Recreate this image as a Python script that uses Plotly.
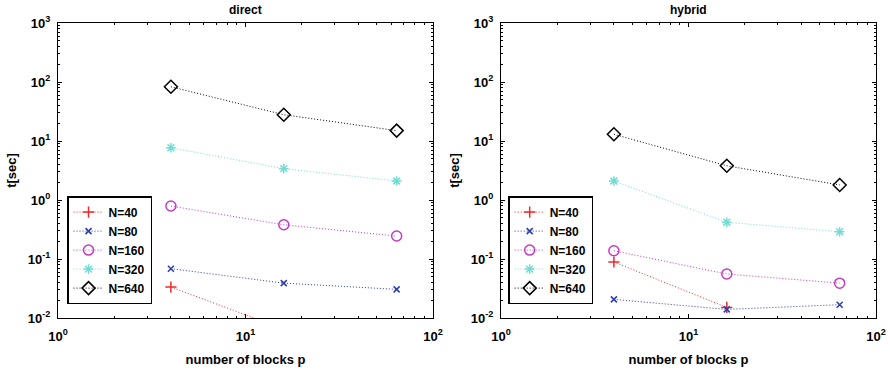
import plotly.graph_objects as go

blocks = [4, 16, 64]
labels = ["N=40", "N=80", "N=160", "N=320", "N=640"]
direct_t = {
    "N=40": [0.0335, 0.0065, 0.004],
    "N=80": [0.0686, 0.039, 0.0306],
    "N=160": [0.79, 0.38, 0.245],
    "N=320": [7.7, 3.4, 2.1],
    "N=640": [83, 27.9, 15],
}
hybrid_t = {
    "N=40": [0.089, 0.0151, None],
    "N=80": [0.0207, 0.014, 0.0168],
    "N=160": [0.138, 0.0557, 0.039],
    "N=320": [2.1, 0.42, 0.29],
    "N=640": [13, 3.8, 1.8],
}
panel_titles = ["direct", "hybrid"]
x_decades = [0, 1, 2]
y_decades = [-2, -1, 0, 1, 2, 3]

colors = {"N=40": "#ee2a2a", "N=80": "#2a3cb0", "N=160": "#c23cc2",
          "N=320": "#74dcd2", "N=640": "#000000"}
symbols = {"N=40": "cross-thin-open", "N=80": "x-thin-open", "N=160": "circle-open",
           "N=320": "asterisk-open", "N=640": "diamond-open"}
msizes = {"N=40": 8, "N=80": 6, "N=160": 10, "N=320": 8, "N=640": 10}

FONT = "Liberation Sans"


def tick_vals(decades):
    return [10.0 ** d for d in decades]


def tick_text(decades):
    return ["10<sup>%d</sup>" % d for d in decades]


def minor_vals(decades):
    out = []
    for d in decades[:-1]:
        for m in range(2, 10):
            out.append(m * 10.0 ** d)
    return out


fig = go.Figure()
for i, data in enumerate([direct_t, hybrid_t]):
    xa = "x" if i == 0 else "x2"
    ya = "y" if i == 0 else "y2"
    lg = "legend" if i == 0 else "legend2"
    for lab in labels:
        fig.add_trace(go.Scatter(
            x=blocks, y=data[lab], mode="lines+markers", name=lab,
            xaxis=xa, yaxis=ya, legend=lg,
            line=dict(color=colors[lab], width=1, dash="1px,2px"),
            marker=dict(symbol=symbols[lab], size=msizes[lab], color=colors[lab],
                        line=dict(color=colors[lab], width=1.5)),
        ))

common = dict(
    type="log", showline=True, linecolor="black", linewidth=1.2, mirror="ticks",
    ticks="inside", ticklen=4, tickcolor="black", tickmode="array",
    showgrid=False, zeroline=False, automargin=False,
    tickfont=dict(family=FONT, size=13, color="black", weight="bold"),
)


def xaxis(domain, anchor):
    return dict(common, domain=domain, range=[0, 2], anchor=anchor,
                tickvals=tick_vals(x_decades), ticktext=tick_text(x_decades),
                ticklabelstandoff=6,
                minor=dict(tickmode="array", tickvals=minor_vals(x_decades), ticks="inside",
                           ticklen=2, tickcolor="black", showgrid=False),
                title=dict(text="number of blocks p", font=dict(size=13, weight="bold"), standoff=12))


def yaxis(domain, anchor):
    return dict(common, domain=domain, range=[-2, 3], anchor=anchor,
                tickvals=tick_vals(y_decades), ticktext=tick_text(y_decades),
                ticklabelstandoff=4,
                minor=dict(tickmode="array", tickvals=minor_vals(y_decades), ticks="inside",
                           ticklen=2, tickcolor="black", showgrid=False),
                title=dict(text="t[sec]", font=dict(size=13, weight="bold"), standoff=8))


dom_y = [0.1405, 0.9378]
dom_x1 = [0.0652, 0.4865]
dom_x2 = [0.5629, 0.9843]
legend_common = dict(xanchor="left", yanchor="top", bordercolor="black", borderwidth=1.5,
                     bgcolor="white", font=dict(family=FONT, size=12, weight="bold"),
                     itemwidth=30, tracegroupgap=0)
fig.update_layout(
    width=890, height=370, margin=dict(l=0, r=0, t=0, b=0, autoexpand=False),
    paper_bgcolor="white", plot_bgcolor="white",
    font=dict(family=FONT, color="black"),
    xaxis=xaxis(dom_x1, "y"), yaxis=yaxis(dom_y, "x"),
    xaxis2=xaxis(dom_x2, "y2"), yaxis2=yaxis(dom_y, "x2"),
    legend=dict(legend_common, x=0.0753, y=0.47),
    legend2=dict(legend_common, x=0.571, y=0.47),
    showlegend=True,
)
for i, t in enumerate(panel_titles):
    d = dom_x1 if i == 0 else dom_x2
    fig.add_annotation(text=t, x=(d[0] + d[1]) / 2, y=1, xref="paper", yref="paper",
                       xanchor="center", yanchor="top", yshift=-1, showarrow=False,
                       font=dict(family=FONT, size=12, weight="bold"))

fig.write_html("out.html")
